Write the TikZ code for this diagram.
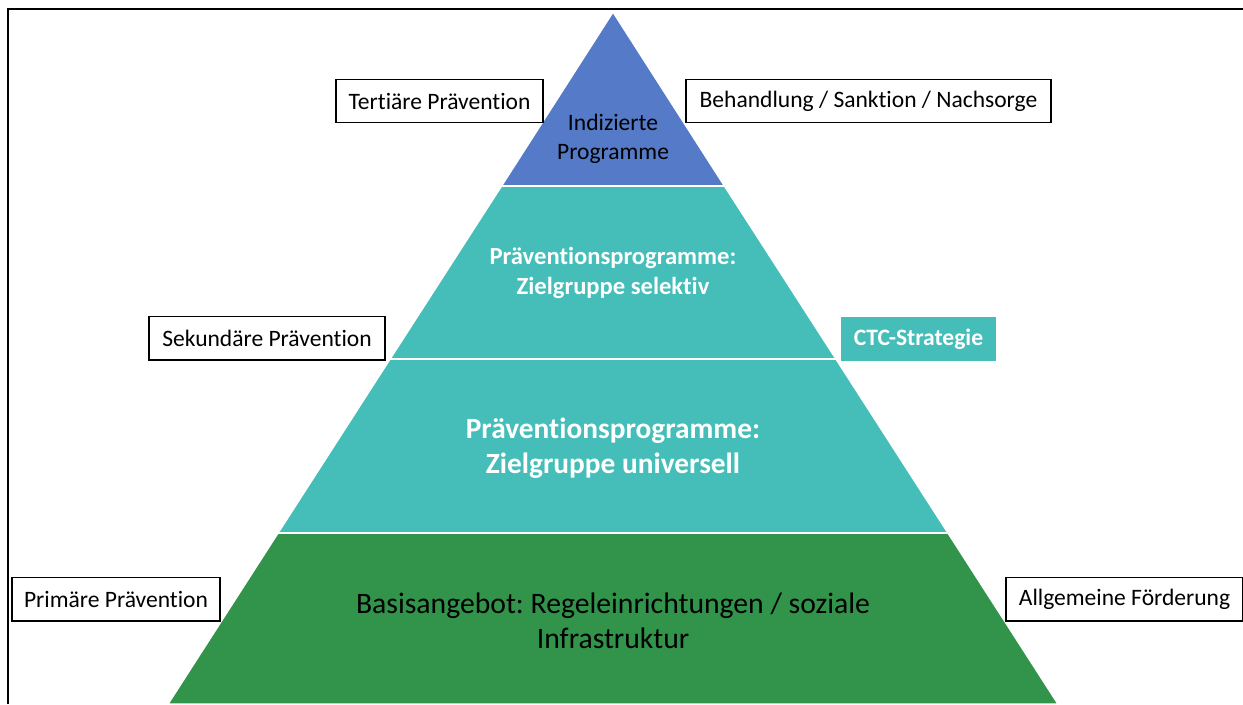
\documentclass[tikz,border=0pt]{standalone}
\usepackage{fontspec}
\setmainfont{Carlito}[Ligatures=NoCommon]
\frenchspacing
\definecolor{spitze}{RGB}{84,122,200}
\definecolor{mitte}{RGB}{69,190,185}
\definecolor{basis}{RGB}{50,147,74}
\newcommand{\kastenfont}{\fontsize{13.4}{16.5}\selectfont}
\tikzset{ebene/.style={draw=white, line width=0.03cm}}
\tikzset{kasten/.style={draw=black, line width=0.85pt, fill=white, font=\kastenfont, minimum height=0.87cm, inner xsep=0.22cm}}

\begin{document}
\begin{tikzpicture}[x=0.02cm, y=-0.02cm]
\useasboundingbox (0,0) rectangle (1243,704);
\draw[line width=1.1pt] (8,704) -- (8,9) -- (1243,9);

%pyramide
\fill[basis, ebene] (278,533) -- (948,533) -- (1058,704) -- (168,704) -- cycle;
\fill[mitte, ebene] (390,359) -- (836,359) -- (948,533) -- (278,533) -- cycle;
\fill[mitte, ebene] (501.5,186) -- (724.5,186) -- (836,359) -- (390,359) -- cycle;
\fill[spitze, ebene] (613,12) -- (724.5,186) -- (501.5,186) -- cycle;
\draw[ebene] (278,533) -- (948,533);
\draw[ebene] (390,359) -- (836,359);
\draw[ebene] (501.5,186) -- (724.5,186);

\node[align=center, font=\fontsize{13.4}{16.6}\selectfont] (indiziert) at (613,139) {Indizierte\\Programme};
\node[align=center, text=white, font=\fontsize{14}{17}\selectfont\bfseries] (selektiv) at (613,273) {Präventionsprogramme:\\Zielgruppe selektiv};
\node[align=center, text=white, font=\fontsize{16.7}{20}\selectfont\bfseries] (universell) at (613,448) {Präventionsprogramme:\\Zielgruppe universell};
\node[align=center, font=\fontsize{16.9}{20}\selectfont] (basisangebot) at (613,621) {Basisangebot: Regeleinrichtungen / soziale\\Infrastruktur};

%kaesten
\node[kasten, minimum width=207*0.02cm] (tertiaer) at (439.5,101) {Tertiäre Prävention};
\node[kasten, minimum width=365*0.02cm] (behandlung) at (868.5,101) {Behandlung / Sanktion / Nachsorge};
\node[kasten, minimum width=236*0.02cm] (sekundaer) at (267,338) {Sekundäre Prävention};
\node[kasten, draw=none, fill=mitte, text=white, font=\kastenfont\bfseries, minimum width=155*0.02cm] (ctc) at (918.5,339) {CTC-Strategie};
\node[kasten, minimum width=208*0.02cm] (primaer) at (116,599) {Primäre Prävention};
\node[kasten, minimum width=237*0.02cm] (allgemein) at (1124.5,599) {Allgemeine Förderung};
\end{tikzpicture}
\end{document}
